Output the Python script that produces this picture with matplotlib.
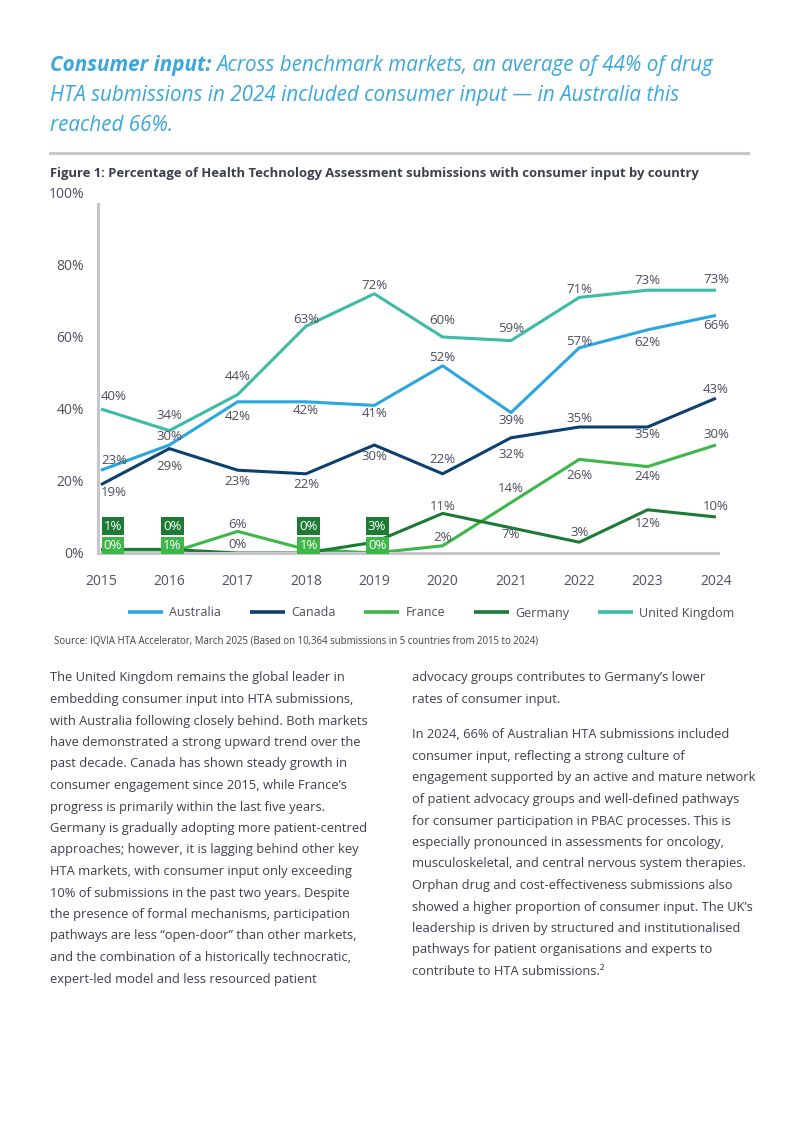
import matplotlib
matplotlib.use("Agg")
import matplotlib.pyplot as plt
from matplotlib.lines import Line2D

plt.rcParams['font.family'] = ['Open Sans', 'Noto Sans', 'DejaVu Sans']

# data
years = [2015, 2016, 2017, 2018, 2019, 2020, 2021, 2022, 2023, 2024]
australia = [23, 30, 42, 42, 41, 52, 39, 57, 62, 66]
canada = [19, 29, 23, 22, 30, 22, 32, 35, 35, 43]
france = [0, 0, 6, 1, 0, 2, 14, 26, 24, 30]
germany = [1, 1, 0, 0, 3, 11, 7, 3, 12, 10]
uk = [40, 34, 44, 63, 72, 60, 59, 71, 73, 73]

# the boxed labels for the crowded low points
box_years = [2015, 2016, 2018, 2019]
box_upper = [1, 0, 0, 3]
box_lower = [0, 1, 1, 0]

yticks = [0, 20, 40, 60, 80, 100]

# label offsets (px, + = above); None = no plain label
off_aus = [10, 8, -15, -9, -8, 8, -8, 6, -13, -10]
off_can = [-8, -18, -11, -11, -12, 14, -17, 9, -7, 9]
off_fra = [None, None, 7, None, None, 8, 14, -16, -10, 10]
off_ger = [None, None, 8, None, None, 7, -7, 10, -14, 10]
off_uk = [12, 15, 18, 7, 8, 16, 12, 8, 10, 11]

series = [
    ("Australia", australia, "#2aa7e1", off_aus),
    ("Canada", canada, "#0d3f70", off_can),
    ("France", france, "#3db848", off_fra),
    ("Germany", germany, "#1b7a34", off_ger),
    ("United Kingdom", uk, "#3cbba6", off_uk),
]

TXT = "#3d3f4d"
LBL = "#4b4d5a"
BLUE = "#3aa8df"

fig = plt.figure(figsize=(8, 11.3), dpi=100)
W, H = 800.0, 1130.0

def fx(px):
    return px / W

def fy(py):
    return 1 - py / H

# title
TS = 14.85
t1 = fig.text(fx(50), fy(66), "Consumer input:", fontsize=TS, fontweight="bold",
              style="italic", color=BLUE, va="center", ha="left")
fig.canvas.draw()
bb = t1.get_window_extent()
fig.text(bb.x1 / W + fx(5), fy(66), "Across benchmark markets, an average of 44% of drug",
         fontsize=TS, style="italic", color=BLUE, va="center", ha="left")
fig.text(fx(50), fy(96), "HTA submissions in 2024 included consumer input \u2014 in Australia this",
         fontsize=TS, style="italic", color=BLUE, va="center", ha="left")
fig.text(fx(50), fy(125), "reached 66%.", fontsize=TS, style="italic", color=BLUE,
         va="center", ha="left")

fig.add_artist(Line2D([fx(50), fx(748)], [fy(153), fy(153)], color="#c8c8cb",
                      linewidth=2.2, transform=fig.transFigure))

fig.text(fx(50), fy(174), "Figure 1: Percentage of Health Technology Assessment submissions with consumer input by country",
         fontsize=9.35, fontweight="bold", color=TXT, va="center", ha="left")

# chart
ax = fig.add_axes([fx(98), fy(553), (718 - 98) / W, (553 - 193) / H])
ax.set_xlim(2014.956, 2024.03)
ax.set_ylim(0, 100)

for name, vals, col, offs in series:
    ax.plot(years, vals, color=col, linewidth=2.2, label=name, solid_capstyle="butt")
    for x, v, o in zip(years, vals, offs):
        if o is None:
            continue
        ha = "left" if x == years[0] else "center"
        ax.annotate(f"{v}%", (x, v), xytext=(0, o * 0.72), textcoords="offset points",
                    ha=ha, va="center", fontsize=9.5, color=LBL)

for x, up, lo in zip(box_years, box_upper, box_lower):
    ha = "left" if x == years[0] else "center"
    dx = 2 if ha == "left" else 2
    ax.annotate(f"{up}%", (x, 0), xytext=(dx, 19.3),
                textcoords="offset points", ha=ha, va="center", fontsize=9.5,
                color="white", bbox=dict(boxstyle="square,pad=0.17", fc="#1e7b35", ec="none"))
    ax.annotate(f"{lo}%", (x, 0), xytext=(dx, 5.5),
                textcoords="offset points", ha=ha, va="center", fontsize=9.5,
                color="white", bbox=dict(boxstyle="square,pad=0.17", fc="#3db848", ec="none"))

ax.set_yticks(yticks)
ax.set_yticklabels([f"{t}%" for t in yticks])
ax.set_xticks(years)
ax.set_xticklabels([str(y) for y in years])
ax.tick_params(axis="both", length=0, labelsize=10, labelcolor="#4f5160")
ax.tick_params(axis="y", pad=10)
ax.tick_params(axis="x", pad=15)
for s in ["top", "right"]:
    ax.spines[s].set_visible(False)
for s in ["left", "bottom"]:
    ax.spines[s].set_color("#c6c6cb")
    ax.spines[s].set_linewidth(2.2)
ax.spines["left"].set_bounds(0, 97)
ax.set_facecolor("none")

leg = fig.legend(loc="center", bbox_to_anchor=(fx(431), fy(613)), ncol=5, frameon=False,
                 fontsize=9, handlelength=2.8, handletextpad=0.5, columnspacing=2.3)
for t in leg.get_texts():
    t.set_color(LBL)
for h in leg.get_lines():
    h.set_linewidth(2.6)

fig.text(fx(54), fy(641), "Source: IQVIA HTA Accelerator, March 2025 (Based on 10,364 submissions in 5 countries from 2015 to 2024)",
         fontsize=6.9, color=TXT, va="center", ha="left")

left_col = [
    "The United Kingdom remains the global leader in",
    "embedding consumer input into HTA submissions,",
    "with Australia following closely behind. Both markets",
    "have demonstrated a strong upward trend over the",
    "past decade. Canada has shown steady growth in",
    "consumer engagement since 2015, while France\u2019s",
    "progress is primarily within the last five years.",
    "Germany is gradually adopting more patient-centred",
    "approaches; however, it is lagging behind other key",
    "HTA markets, with consumer input only exceeding",
    "10% of submissions in the past two years. Despite",
    "the presence of formal mechanisms, participation",
    "pathways are less \u201copen-door\u201d than other markets,",
    "and the combination of a historically technocratic,",
    "expert-led model and less resourced patient",
]
right_par1 = [
    "advocacy groups contributes to Germany\u2019s lower",
    "rates of consumer input.",
]
right_par2 = [
    "In 2024, 66% of Australian HTA submissions included",
    "consumer input, reflecting a strong culture of",
    "engagement supported by an active and mature network",
    "of patient advocacy groups and well-defined pathways",
    "for consumer participation in PBAC processes. This is",
    "especially pronounced in assessments for oncology,",
    "musculoskeletal, and central nervous system therapies.",
    "Orphan drug and cost-effectiveness submissions also",
    "showed a higher proportion of consumer input. The UK\u2019s",
    "leadership is driven by structured and institutionalised",
    "pathways for patient organisations and experts to",
    "contribute to HTA submissions.\u00b2",
]

LS = 21.5
BS = 9.3
for i, line in enumerate(left_col):
    fig.text(fx(50), fy(678 + i * LS), line, fontsize=BS, color=TXT, va="center", ha="left")
for i, line in enumerate(right_par1):
    fig.text(fx(412), fy(678 + i * LS), line, fontsize=BS, color=TXT, va="center", ha="left")
for i, line in enumerate(right_par2):
    fig.text(fx(412), fy(735 + i * LS), line, fontsize=BS, color=TXT, va="center", ha="left")

fig.savefig("out.png", dpi=100, facecolor="white")
